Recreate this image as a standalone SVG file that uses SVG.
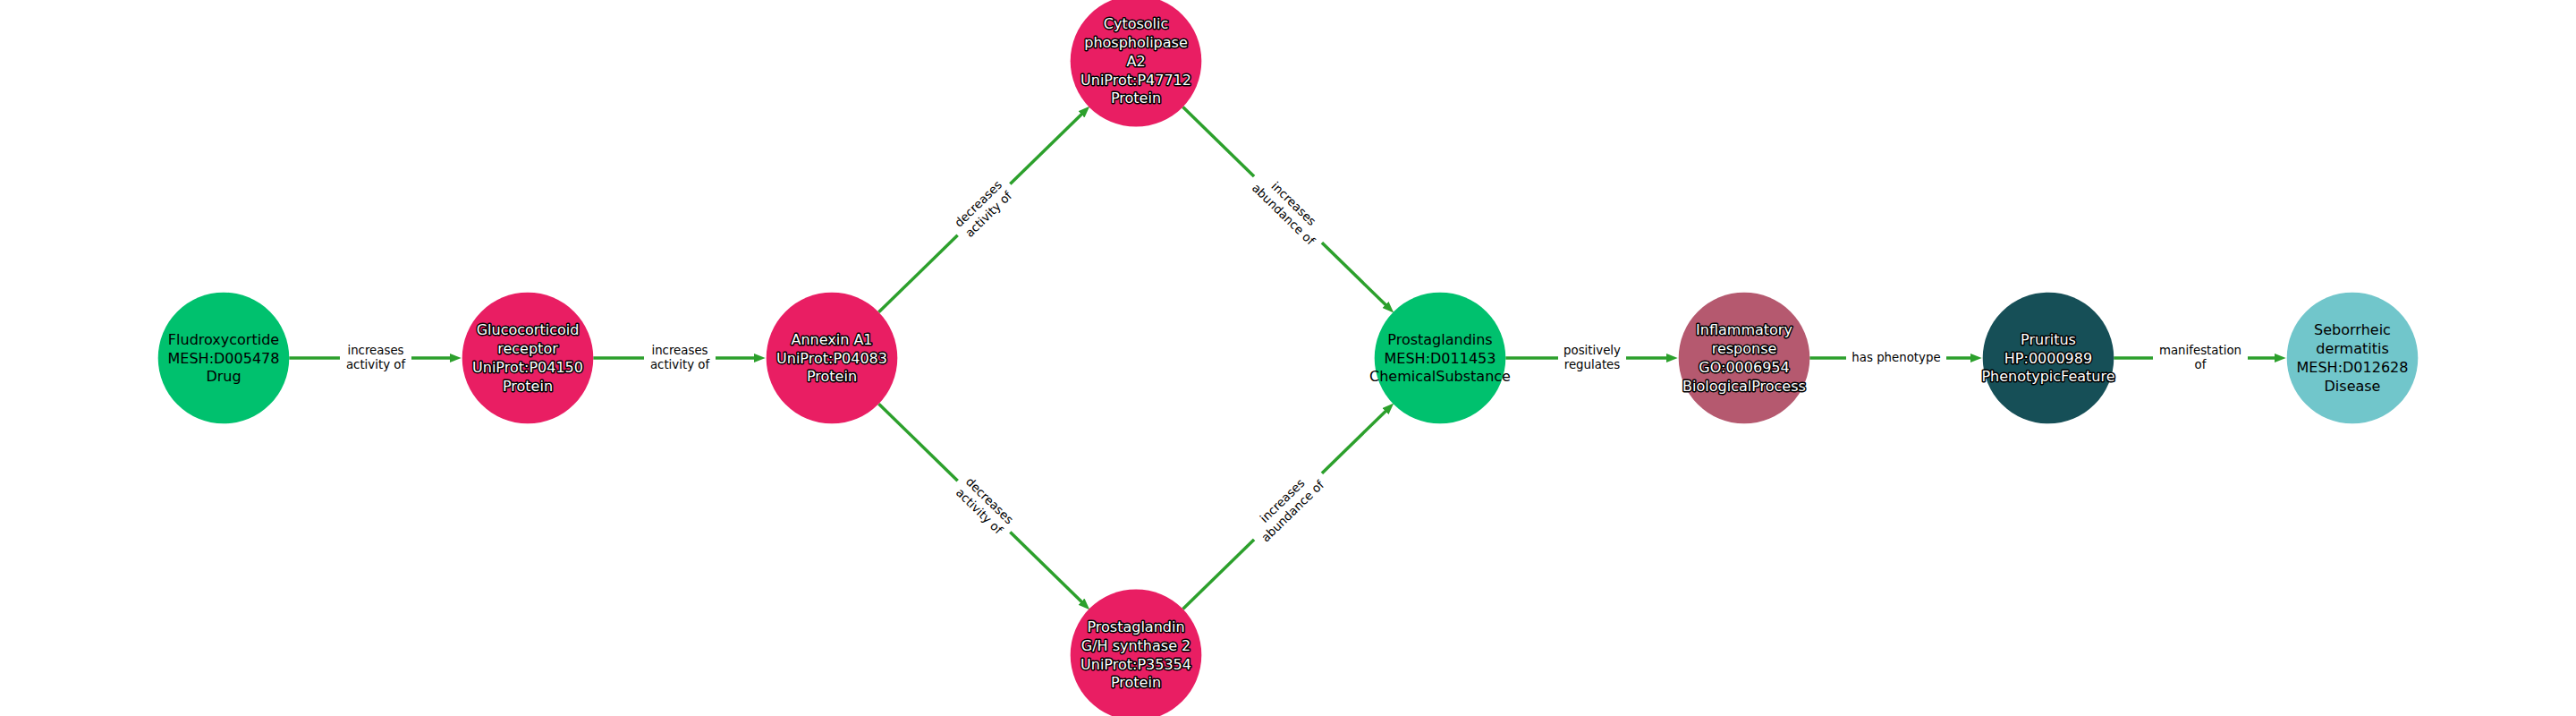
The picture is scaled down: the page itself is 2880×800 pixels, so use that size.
<svg xmlns="http://www.w3.org/2000/svg" width="2880" height="800" viewBox="0 0 2880 800">
<style>
.bg{fill:#ffffff}
.edge{stroke:#2ca02c;stroke-width:3.5;fill:none}
.lbox{fill:#ffffff;stroke:none}
.elab{font-family:"DejaVu Sans","Liberation Sans",sans-serif;font-size:13.33px;fill:#000000;text-anchor:middle}
.ntext{font-family:"DejaVu Sans","Liberation Sans",sans-serif;font-size:16px;text-anchor:middle}
.dark{fill:#000000}
.light{fill:#ffffff;stroke:#000000;stroke-width:3;stroke-linejoin:round;paint-order:stroke}
.drug{fill:#00c16e}
.prot{fill:#e91e63}
.bio{fill:#b5596f}
.pheno{fill:#164f57}
.dis{fill:#71c6cb}
</style>
<defs>
<marker id="arrow" viewBox="0 0 13 10" refX="6" refY="5" markerWidth="13" markerHeight="10" markerUnits="userSpaceOnUse" orient="auto">
<path d="M0,0 L13,5 L0,10 z" fill="#2ca02c"/>
</marker>
</defs>
<rect class="bg" x="0" y="0" width="2880" height="800"/>

<g id="connectors">
<line class="edge" x1="323.3" y1="400" x2="508.7" y2="400" marker-end="url(#arrow)"/>
<line class="edge" x1="663.3" y1="400" x2="848.7" y2="400" marker-end="url(#arrow)"/>
<line class="edge" x1="982.47" y1="348.81" x2="1213.24" y2="123.68" marker-end="url(#arrow)"/>
<line class="edge" x1="982.47" y1="451.19" x2="1213.24" y2="676.32" marker-end="url(#arrow)"/>
<line class="edge" x1="1322.47" y1="119.49" x2="1553.24" y2="344.62" marker-end="url(#arrow)"/>
<line class="edge" x1="1322.47" y1="680.51" x2="1553.24" y2="455.38" marker-end="url(#arrow)"/>
<line class="edge" x1="1683.3" y1="400" x2="1868.7" y2="400" marker-end="url(#arrow)"/>
<line class="edge" x1="2023.3" y1="400" x2="2208.7" y2="400" marker-end="url(#arrow)"/>
<line class="edge" x1="2363.3" y1="400" x2="2548.7" y2="400" marker-end="url(#arrow)"/>

<g transform="translate(420,400)">
<rect class="lbox" x="-40" y="-21" width="80" height="41" rx="4"/>
<text class="elab"><tspan x="0" y="-4.5">increases</tspan><tspan x="0" y="12">activity of</tspan></text>
</g>
<g transform="translate(760,400)">
<rect class="lbox" x="-40" y="-21" width="80" height="41" rx="4"/>
<text class="elab"><tspan x="0" y="-4.5">increases</tspan><tspan x="0" y="12">activity of</tspan></text>
</g>
<g transform="translate(1100,234.15) rotate(-44.29)">
<rect class="lbox" x="-41" y="-21" width="82" height="41" rx="4"/>
<text class="elab"><tspan x="0" y="-4.5">decreases</tspan><tspan x="0" y="12">activity of</tspan></text>
</g>
<g transform="translate(1100,565.85) rotate(44.29)">
<rect class="lbox" x="-41" y="-21" width="82" height="41" rx="4"/>
<text class="elab"><tspan x="0" y="-4.5">decreases</tspan><tspan x="0" y="12">activity of</tspan></text>
</g>
<g transform="translate(1440,234.15) rotate(44.29)">
<rect class="lbox" x="-53" y="-21" width="106" height="41" rx="4"/>
<text class="elab"><tspan x="0" y="-4.5">increases</tspan><tspan x="0" y="12">abundance of</tspan></text>
</g>
<g transform="translate(1440,565.85) rotate(-44.29)">
<rect class="lbox" x="-53" y="-21" width="106" height="41" rx="4"/>
<text class="elab"><tspan x="0" y="-4.5">increases</tspan><tspan x="0" y="12">abundance of</tspan></text>
</g>
<g transform="translate(1780,400)">
<rect class="lbox" x="-38" y="-21" width="76" height="41" rx="4"/>
<text class="elab"><tspan x="0" y="-4.5">positively</tspan><tspan x="0" y="12">regulates</tspan></text>
</g>
<g transform="translate(2120,400)">
<rect class="lbox" x="-56" y="-13" width="112" height="26" rx="4"/>
<text class="elab"><tspan x="0" y="4">has phenotype</tspan></text>
</g>
<g transform="translate(2460,400)">
<rect class="lbox" x="-53" y="-21" width="106" height="41" rx="4"/>
<text class="elab"><tspan x="0" y="-4.5">manifestation</tspan><tspan x="0" y="12">of</tspan></text>
</g>
</g>

<g id="node-fludroxycortide">
<circle class="drug" cx="250" cy="400" r="73.3"/>
<text class="ntext dark"><tspan x="250" y="384.7">Fludroxycortide</tspan><tspan x="250" y="405.5">MESH:D005478</tspan><tspan x="250" y="426.3">Drug</tspan></text>
</g>
<g id="node-glucocorticoid-receptor">
<circle class="prot" cx="590" cy="400" r="73.3"/>
<text class="ntext light"><tspan x="590" y="374.3">Glucocorticoid</tspan><tspan x="590" y="395.1">receptor</tspan><tspan x="590" y="415.9">UniProt:P04150</tspan><tspan x="590" y="436.7">Protein</tspan></text>
</g>
<g id="node-annexin-a1">
<circle class="prot" cx="930" cy="400" r="73.3"/>
<text class="ntext light"><tspan x="930" y="384.7">Annexin A1</tspan><tspan x="930" y="405.5">UniProt:P04083</tspan><tspan x="930" y="426.3">Protein</tspan></text>
</g>
<g id="node-cytosolic-pla2">
<circle class="prot" cx="1270" cy="68.3" r="73.3"/>
<text class="ntext light"><tspan x="1270" y="32.2">Cytosolic</tspan><tspan x="1270" y="53">phospholipase</tspan><tspan x="1270" y="73.8">A2</tspan><tspan x="1270" y="94.6">UniProt:P47712</tspan><tspan x="1270" y="115.4">Protein</tspan></text>
</g>
<g id="node-pgh-synthase-2">
<circle class="prot" cx="1270" cy="731.7" r="73.3"/>
<text class="ntext light"><tspan x="1270" y="706">Prostaglandin</tspan><tspan x="1270" y="726.8">G/H synthase 2</tspan><tspan x="1270" y="747.6">UniProt:P35354</tspan><tspan x="1270" y="768.4">Protein</tspan></text>
</g>
<g id="node-prostaglandins">
<circle class="drug" cx="1610" cy="400" r="73.3"/>
<text class="ntext dark"><tspan x="1610" y="384.7">Prostaglandins</tspan><tspan x="1610" y="405.5">MESH:D011453</tspan><tspan x="1610" y="426.3">ChemicalSubstance</tspan></text>
</g>
<g id="node-inflammatory-response">
<circle class="bio" cx="1950" cy="400" r="73.3"/>
<text class="ntext light"><tspan x="1950" y="374.3">Inflammatory</tspan><tspan x="1950" y="395.1">response</tspan><tspan x="1950" y="415.9">GO:0006954</tspan><tspan x="1950" y="436.7">BiologicalProcess</tspan></text>
</g>
<g id="node-pruritus">
<circle class="pheno" cx="2290" cy="400" r="73.3"/>
<text class="ntext light"><tspan x="2290" y="384.7">Pruritus</tspan><tspan x="2290" y="405.5">HP:0000989</tspan><tspan x="2290" y="426.3">PhenotypicFeature</tspan></text>
</g>
<g id="node-seborrheic-dermatitis">
<circle class="dis" cx="2630" cy="400" r="73.3"/>
<text class="ntext dark"><tspan x="2630" y="374.3">Seborrheic</tspan><tspan x="2630" y="395.1">dermatitis</tspan><tspan x="2630" y="415.9">MESH:D012628</tspan><tspan x="2630" y="436.7">Disease</tspan></text>
</g>
</svg>
